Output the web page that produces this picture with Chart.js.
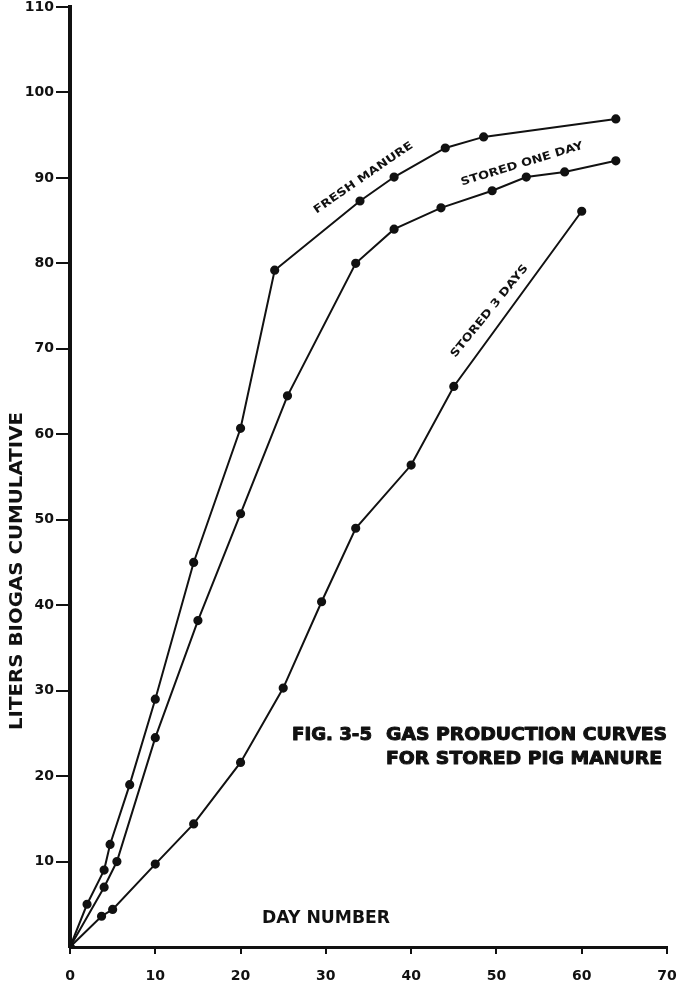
<!DOCTYPE html>
<html>
<head>
<meta charset="utf-8">
<script src="https://cdn.jsdelivr.net/npm/chart.js@4/dist/chart.umd.min.js"></script>
<style>
  html, body { margin: 0; padding: 0; background: #fff; }
  #wrap { width: 679px; height: 985px; }
</style>
</head>
<body>
<div id="wrap"><canvas id="chart1"></canvas></div>
<script>
// days and cumulative litres
const freshDays = [0, 2, 4, 4.7, 7, 10, 14.5, 20, 24, 34, 38, 44, 48.5, 64]
const freshLiters = [0, 5, 9, 12, 19, 29, 45, 60.7, 79.2, 87.3, 90.1, 93.5, 94.8, 96.9]

const oneDayDays = [0, 4, 5.5, 10, 15, 20, 25.5, 33.5, 38, 43.5, 49.5, 53.5, 58, 64]
const oneDayLiters = [0, 7, 10, 24.5, 38.2, 50.7, 64.5, 80, 84, 86.5, 88.5, 90.1, 90.7, 92]

const threeDayDays = [0, 3.7, 5, 10, 14.5, 20, 25, 29.5, 33.5, 40, 45, 60]
const threeDayLiters = [0, 3.6, 4.4, 9.7, 14.4, 21.6, 30.3, 40.4, 49, 56.4, 65.6, 86.1]

const xTicks = [0, 10, 20, 30, 40, 50, 60, 70]
const yTicks = [10, 20, 30, 40, 50, 60, 70, 80, 90, 100, 110]

const ink = '#111'
const font = '"DejaVu Sans", "Liberation Sans", Arial, sans-serif'

function toPoints(xs, ys) {
    return xs.map((x, i) => ({ x: x, y: ys[i] }))
}

function series(label, xs, ys) {
    return {
        label: label,
        data: toPoints(xs, ys),
        showLine: true,
        borderColor: ink,
        backgroundColor: ink,
        borderWidth: 2,
        pointRadius: 3.6,
        pointHoverRadius: 3.6,
        tension: 0
    }
}

// draws text squeezed/stretched to a given width, starting at left x
function fitText(ctx, text, left, y, width, size, heavy) {
    ctx.save()
    ctx.font = 'bold ' + size + 'px ' + font
    ctx.textAlign = 'left'
    ctx.textBaseline = 'middle'
    const w = ctx.measureText(text).width
    ctx.translate(left, y)
    ctx.scale(width / w, 1)
    ctx.fillText(text, 0, 0)
    if (heavy) {
        ctx.strokeStyle = ink
        ctx.lineWidth = heavy
        ctx.lineJoin = 'round'
        ctx.strokeText(text, 0, 0)
    }
    ctx.restore()
}

// hand lettering on the figure
const annotations = {
    id: 'annotations',
    afterDatasetsDraw(chart) {
        const ctx = chart.ctx
        const xs = chart.scales.x
        const ys = chart.scales.y
        ctx.fillStyle = ink

        const rotated = (text, dx, dy, angle, width) => {
            ctx.save()
            ctx.translate(xs.getPixelForValue(dx), ys.getPixelForValue(dy))
            ctx.rotate(angle * Math.PI / 180)
            fitText(ctx, text, -width / 2, 0, width, 11)
            ctx.restore()
        }
        rotated('FRESH MANURE', 34.4, 90.0, -34.6, 118)
        rotated('STORED ONE DAY', 53.0, 91.6, -17, 127)
        rotated('STORED 3 DAYS', 49.2, 74.4, -51, 116)

        // title
        fitText(ctx, 'FIG. 3-5', 292, 735, 80, 18, 1)
        fitText(ctx, 'GAS PRODUCTION CURVES', 386, 735, 281, 18, 1)
        fitText(ctx, 'FOR STORED PIG MANURE', 386, 759, 276, 18, 1)

        // x axis name
        fitText(ctx, 'DAY NUMBER', 262, 919, 128, 17)

        // y axis name
        ctx.save()
        ctx.translate(17, 730)
        ctx.rotate(-Math.PI / 2)
        fitText(ctx, 'LITERS BIOGAS CUMULATIVE', 0, 0, 318, 18)
        ctx.restore()
    }
}

const data = {
    datasets: [
        series('Fresh manure', freshDays, freshLiters),
        series('Stored one day', oneDayDays, oneDayLiters),
        series('Stored 3 days', threeDayDays, threeDayLiters)
    ]
}

let options = {
    responsive: true,
    maintainAspectRatio: false,
    animation: false,
    layout: { padding: { top: 7, right: 12, left: 0, bottom: 0 } },
    plugins: {
        legend: { display: false },
        tooltip: { enabled: false }
    },
    scales: {
        x: {
            type: 'linear',
            min: 0,
            max: 70,
            afterBuildTicks: scale => { scale.ticks = xTicks.map(v => ({ value: v })) },
            afterFit: scale => {
                scale.height = 38
                scale.paddingLeft = 0
                scale.paddingRight = 0
            },
            border: { display: true, color: ink, width: 3 },
            grid: { drawOnChartArea: false, drawTicks: true, tickLength: 7, color: ink, lineWidth: 2 },
            ticks: { color: ink, padding: 14, font: { family: font, size: 14, weight: 'bold' } }
        },
        y: {
            type: 'linear',
            min: 0,
            max: 110,
            afterBuildTicks: scale => { scale.ticks = yTicks.map(v => ({ value: v })) },
            afterFit: scale => {
                scale.width = 70
                scale.paddingTop = 0
                scale.paddingBottom = 0
            },
            border: { display: true, color: ink, width: 4 },
            grid: { drawOnChartArea: false, drawTicks: true, tickLength: 14, color: ink, lineWidth: 2 },
            ticks: { color: ink, padding: 2, font: { family: font, size: 14, weight: 'bold' } }
        }
    }
}

new Chart('chart1', { type: 'scatter', data, options, plugins: [annotations] })
</script>
</body>
</html>
